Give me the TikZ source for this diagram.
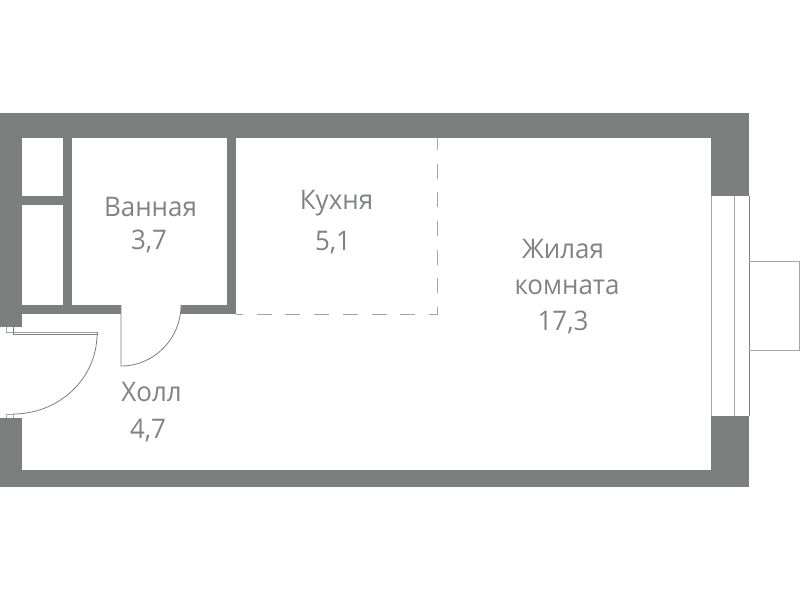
\documentclass[tikz,border=0pt]{standalone}
\usepackage{fontspec}
\setmainfont[FakeStretch=0.96]{Open Sans}
\definecolor{wallgray}{HTML}{7C7F7D}
\definecolor{textgray}{HTML}{808382}
\definecolor{linegray}{HTML}{A4A6A5}
\tikzset{
	wall/.style={fill=wallgray,draw=none},
	thinline/.style={draw=linegray,line width=1pt},
	doorline/.style={draw=wallgray,line width=0.8pt},
	roomtext/.style={text=textgray,anchor=base,inner sep=0pt,font=\fontsize{27}{27}\selectfont}
}
\begin{document}
\begin{tikzpicture}[x=1pt,y=1pt]
		\useasboundingbox (0,0) rectangle (800,-600);
		% outer walls
		\fill [wall] (0,-113) rectangle (749,-138);
		\fill [wall] (0,-113) rectangle (22,-327);
		\fill [wall] (0,-418) rectangle (22,-487);
		\fill [wall] (0,-470) rectangle (749,-487);
		\fill [wall] (711,-113) rectangle (749,-196);
		\fill [wall] (711,-416) rectangle (749,-487);
		% partitions
		\fill [wall] (63,-138) rectangle (72,-314);
		\fill [wall] (22,-196) rectangle (63,-205);
		\fill [wall] (22,-305) rectangle (121,-314);
		\fill [wall] (181,-305) rectangle (236,-314);
		\fill [wall] (227,-138) rectangle (236,-314);
		% kitchen border
		\draw [thinline,dash pattern=on 15pt off 13.7pt,dash phase=8pt] (236,-314) -- (437,-314) -- (437,-138);
		% window and balcony
		\draw [thinline] (711,-196) -- (711,-416);
		\draw [thinline] (734,-196) -- (734,-416);
		\draw [doorline] (749,-196) -- (749,-416);
		\draw [thinline] (749,-261) -- (799,-261) -- (799,-350) -- (749,-350);
		% bathroom door
		\draw [doorline] (121,-305) -- (121,-366) arc (-90:0:60 and 61);
		% entrance door
		\draw [thinline] (6,-327) -- (6,-332) -- (97,-332);
		\draw [doorline] (13,-327) -- (13,-334) -- (97,-334) -- (97,-332);
		\draw [doorline] (97,-334) arc (0:-90:84 and 80);
		\draw [thinline] (6,-418) -- (6,-414) -- (13,-414) -- (13,-418);
		% labels
		\node [roomtext] (bathname) at (150.5,-216) {Ванная};
		\node [roomtext] (batharea) at (149,-249) {3,7};
		\node [roomtext] (kitchenname) at (336.5,-209) {Кухня};
		\node [roomtext] (kitchenarea) at (333,-250) {5,1};
		\node [roomtext] (livingname) at (563,-258) {Жилая};
		\node [roomtext] (livingnametwo) at (567,-294) {комната};
		\node [roomtext] (livingarea) at (563,-330) {17,3};
		\node [roomtext] (hallname) at (151.5,-401.5) {Холл};
		\node [roomtext] (hallarea) at (148,-438) {4,7};
		\end{tikzpicture}
\end{document}
